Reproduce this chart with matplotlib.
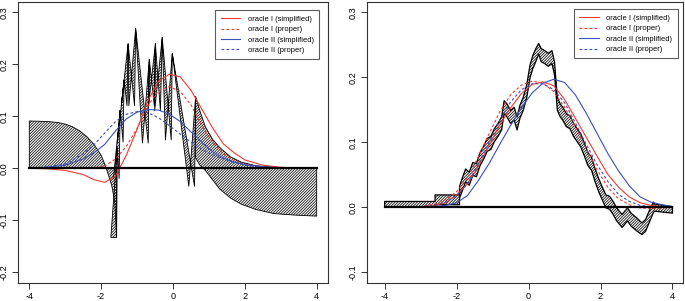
import numpy as np
import matplotlib
matplotlib.use("Agg")
import matplotlib.pyplot as plt

plt.rcParams['font.family'] = ['Liberation Sans', 'DejaVu Sans']
plt.rcParams['axes.unicode_minus'] = False
plt.rcParams['hatch.linewidth'] = 0.55

RED = '#ee3a32'
BLUE = '#3a4fb8'
HATCH = '/' * 12
TOOTH_W = 0.16

labels = ['oracle I (simplified)', 'oracle I (proper)',
          'oracle II (simplified)', 'oracle II (proper)']

# ---- left panel data ----
left_grid = [-4, -3.5, -3, -2.5, -2.2, -1.9, -1.6, -1.3, -1.0, -0.7, -0.4, -0.1,
             0.2, 0.5, 0.8, 1.1, 1.4, 1.7, 2.0, 2.5, 3.0, 3.5, 4.0]
left_red = [0, -0.001, -0.004, -0.012, -0.022, -0.027, -0.015, 0.025, 0.075, 0.130, 0.168, 0.181,
            0.176, 0.150, 0.114, 0.078, 0.047, 0.030, 0.016, 0.006, 0.002, 0.0005, 0]
left_red_p = [0, 0, 0, 0, 0.001, 0.004, 0.018, 0.042, 0.077, 0.120, 0.150, 0.157,
              0.148, 0.122, 0.082, 0.050, 0.028, 0.015, 0.007, 0.002, 0, 0, 0]
left_blue = [0, 0.002, 0.006, 0.018, 0.030, 0.046, 0.072, 0.095, 0.108, 0.113, 0.112, 0.104,
             0.090, 0.070, 0.050, 0.032, 0.020, 0.012, 0.007, 0.003, 0.001, 0, 0]
left_blue_p = [0, 0.003, 0.008, 0.028, 0.045, 0.068, 0.090, 0.104, 0.109, 0.107, 0.097, 0.082,
               0.066, 0.050, 0.037, 0.026, 0.018, 0.011, 0.006, 0.002, 0.0005, 0, 0]

# hatched band, left part (between curve and zero)
left_head_x = [-4, -3.5, -3.2, -3.0, -2.8, -2.6, -2.4, -2.2, -2.0, -1.9, -1.8, -1.7, -1.62, -1.57]
left_head_y = [0.091, 0.090, 0.088, 0.085, 0.080, 0.072, 0.061, 0.046, 0.025, 0.008, -0.012, -0.035,
               -0.065, -0.133]
# saw-tooth middle part
left_valley_x = [-1.57, -1.50, -1.39, -1.28, -1.07, -0.69, -0.52, -0.35, -0.05, 0.60]
left_valley_y = [-0.133, -0.02, 0.05, 0.12, 0.12, 0.048, 0.12, 0.11, 0.054, -0.035]
left_peak_x = [-1.55, -1.47, -1.36, -1.25, -1.04, -0.66, -0.49, -0.30, -0.02, 0.63]
left_peak_y = [0.04, 0.112, 0.17, 0.24, 0.269, 0.21, 0.24, 0.252, 0.221, 0.138]
# right tail
left_tail_x = [0.63, 0.75, 0.9, 1.1, 1.3, 1.6, 1.9, 2.3, 2.8, 3.4, 4.0]
left_tail_hi = [0.138, 0.110, 0.080, 0.056, 0.040, 0.022, 0.012, 0.005, 0.002, 0.0005, 0.0]
left_tail_lo = [0.02, 0.006, -0.004, -0.022, -0.040, -0.057, -0.069, -0.079, -0.087, -0.090, -0.092]

# ---- right panel data ----
right_grid = [-4, -3.5, -3, -2.6, -2.3, -2.0, -1.7, -1.4, -1.1, -0.8, -0.5, -0.2, 0.1,
              0.4, 0.7, 1.0, 1.3, 1.6, 1.9, 2.2, 2.5, 2.8, 3.1, 3.4, 3.7, 4.0]
right_red = [0, 0.0005, 0.001, 0.003, 0.007, 0.019, 0.036, 0.062, 0.095, 0.127, 0.153, 0.175, 0.189,
             0.193, 0.187, 0.166, 0.137, 0.108, 0.079, 0.051, 0.031, 0.016, 0.007, 0.003, 0.001, 0]
right_red_p = [0, 0, 0.001, 0.005, 0.012, 0.024, 0.045, 0.077, 0.113, 0.147, 0.173, 0.188, 0.194,
               0.191, 0.178, 0.154, 0.124, 0.091, 0.058, 0.031, 0.013, 0.004, -0.001, -0.002, -0.001, 0]
right_blue = [0, 0, 0.0005, 0.001, 0.003, 0.007, 0.018, 0.041, 0.067, 0.097, 0.126, 0.153, 0.176,
              0.191, 0.197, 0.192, 0.173, 0.145, 0.114, 0.083, 0.056, 0.033, 0.016, 0.008, 0.004, 0.001]
right_blue_p = [0, 0, 0.001, 0.003, 0.008, 0.018, 0.036, 0.066, 0.100, 0.134, 0.162, 0.181, 0.190,
                0.190, 0.181, 0.161, 0.130, 0.097, 0.066, 0.040, 0.020, 0.009, 0.003, 0.001, 0, 0]

right_band_x = [-4.0, -2.6, -2.6, -1.92, -1.92, -1.85, -1.75, -1.65, -1.55, -1.45, -1.35, -1.25,
                -1.15, -1.05, -0.95, -0.85, -0.75, -0.68, -0.60, -0.50, -0.40, -0.32, -0.24,
                -0.15, -0.05, 0.04, 0.12, 0.20, 0.28, 0.35, 0.45, 0.55, 0.65, 0.72, 0.80, 0.88,
                0.95, 1.05, 1.15, 1.25, 1.35, 1.45, 1.55, 1.65, 1.75, 1.85, 1.95, 2.05, 2.15,
                2.25, 2.35, 2.45, 2.60, 2.75, 2.85, 3.00, 3.15, 3.25, 3.35, 3.47, 3.50, 4.0]
right_band_hi = [0.009, 0.009, 0.019, 0.019, 0.032, 0.044, 0.059, 0.054, 0.069, 0.067, 0.084, 0.094,
                 0.106, 0.109, 0.121, 0.129, 0.139, 0.164, 0.159, 0.149, 0.154, 0.139, 0.157,
                 0.169, 0.189, 0.219, 0.234, 0.244, 0.252, 0.244, 0.241, 0.237, 0.241, 0.224, 0.169, 0.159,
                 0.154, 0.144, 0.141, 0.129, 0.121, 0.113, 0.099, 0.084, 0.077, 0.059, 0.044, 0.031, 0.019,
                 0.017, 0.009, -0.001, -0.011, -0.001, -0.009, -0.016, -0.024, -0.019, -0.006, 0.008, 0.005, 0.001]
right_band_lo = [0.0, 0.0, 0.004, 0.004, 0.014, 0.024, 0.039, 0.034, 0.049, 0.047, 0.064, 0.074,
                 0.086, 0.089, 0.101, 0.109, 0.119, 0.144, 0.139, 0.129, 0.134, 0.119, 0.137,
                 0.149, 0.169, 0.199, 0.214, 0.224, 0.236, 0.224, 0.221, 0.217, 0.221, 0.204, 0.149, 0.139,
                 0.134, 0.124, 0.121, 0.109, 0.101, 0.093, 0.079, 0.064, 0.057, 0.039, 0.024, 0.011, -0.001,
                 -0.003, -0.011, -0.021, -0.031, -0.021, -0.029, -0.036, -0.042, -0.037, -0.024, -0.008, -0.006, -0.009]


def style_axes(ax, yticks):
    for s in ax.spines.values():
        s.set_linewidth(0.8)
        s.set_color('#333333')
    ax.set_xticks([-4, -2, 0, 2, 4])
    ax.set_yticks(yticks)
    ax.set_yticklabels(['%.1f' % v for v in yticks], rotation=90, va='center')
    ax.tick_params(length=4, width=0.7, labelsize=6.6, pad=2.5, colors='#333333', labelcolor='black')


def draw_curves(ax, grid, red, red_p, blue, blue_p):
    ax.plot(grid, red, color=RED, lw=0.8, label=labels[0])
    ax.plot(grid, red_p, color=RED, lw=0.8, ls=(0, (2.5, 2)), label=labels[1])
    ax.plot(grid, blue, color=BLUE, lw=0.8, label=labels[2])
    ax.plot(grid, blue_p, color=BLUE, lw=0.8, ls=(0, (2.5, 2)), label=labels[3])
    ax.plot([-4, 4], [0, 0], color='black', lw=1.6, zorder=5)


def add_legend(ax, anchor):
    leg = ax.legend(loc='upper right', bbox_to_anchor=anchor, fontsize=5.4, frameon=True,
                    fancybox=False, edgecolor='#333333', handlelength=2.6, handletextpad=1.0,
                    borderpad=0.7, labelspacing=0.42, borderaxespad=0)
    leg.get_frame().set_linewidth(0.8)


fig = plt.figure(figsize=(6.85, 3.01), dpi=100)
ax1 = fig.add_axes([0.026, 0.0608, 0.4531, 0.9329])
ax2 = fig.add_axes([0.5353, 0.0608, 0.4622, 0.9329])

# left panel
ax1.fill_between(left_head_x, left_head_y, 0, facecolor='none', edgecolor='black',
                 hatch=HATCH, lw=0.6)
chain_a_x, chain_a_y, chain_b_x = [], [], []
for vx, vy, px, py in zip(left_valley_x, left_valley_y, left_peak_x, left_peak_y):
    chain_a_x += [vx - TOOTH_W, px]
    chain_b_x += [vx, px]
    chain_a_y += [vy, py]
saw_x = chain_a_x + chain_b_x[::-1]
saw_y = chain_a_y + chain_a_y[::-1]
ax1.fill(saw_x, saw_y, facecolor='none', edgecolor='black', hatch=HATCH, lw=0.6)
ax1.fill_between(left_tail_x, left_tail_hi, left_tail_lo, facecolor='none', edgecolor='black',
                 hatch=HATCH, lw=0.6)
draw_curves(ax1, left_grid, left_red, left_red_p, left_blue, left_blue_p)
ax1.set_xlim(-4.32, 4.32)
ax1.set_ylim(-0.22, 0.32)
style_axes(ax1, [-0.2, -0.1, 0.0, 0.1, 0.2, 0.3])
add_legend(ax1, (0.97, 0.97))

# right panel
ax2.fill_between(right_band_x, right_band_hi, right_band_lo, facecolor='none', edgecolor='black',
                 hatch=HATCH, lw=0.9)
draw_curves(ax2, right_grid, right_red, right_red_p, right_blue, right_blue_p)
ax2.set_xlim(-4.5, 4.3)
ax2.set_ylim(-0.116, 0.316)
style_axes(ax2, [-0.1, 0.0, 0.1, 0.2, 0.3])
add_legend(ax2, (0.982, 0.973))

fig.savefig('out.png', dpi=100)
